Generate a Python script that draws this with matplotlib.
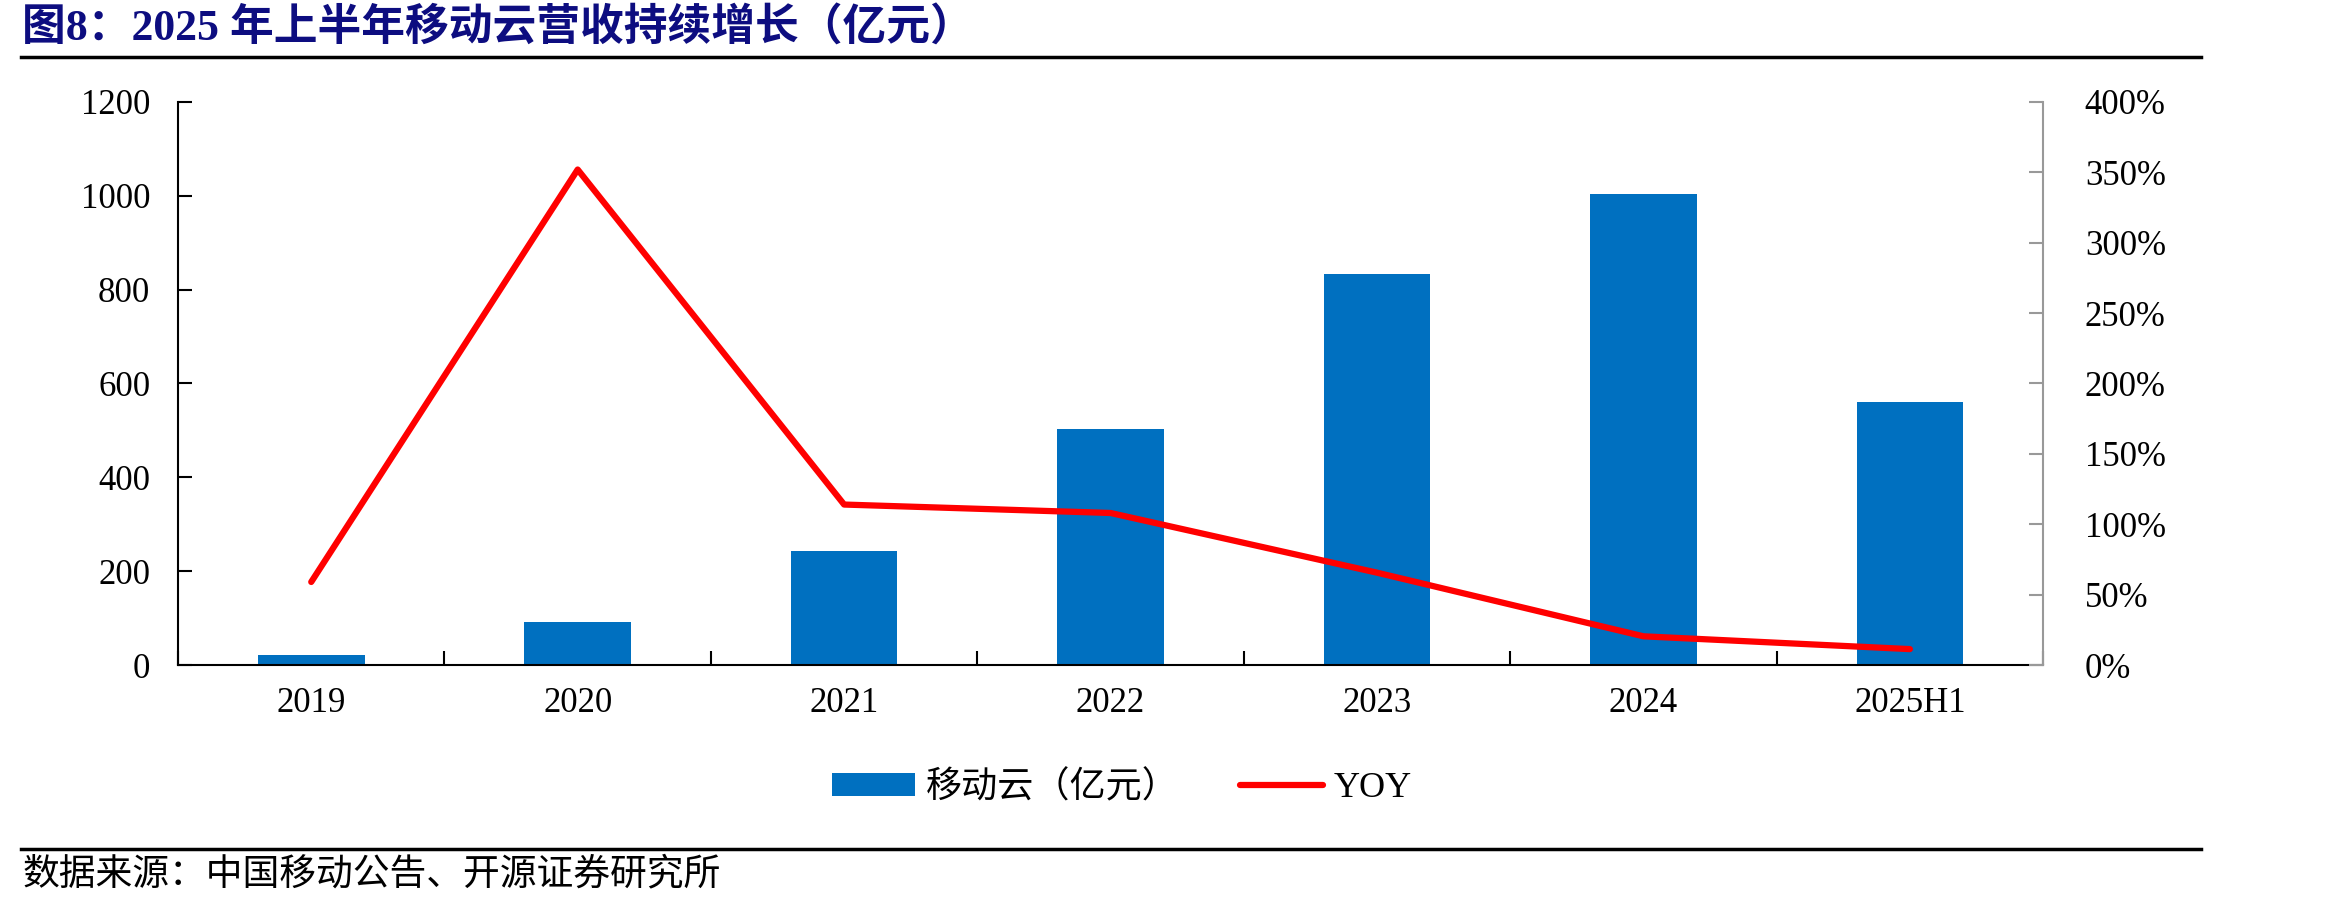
import matplotlib
matplotlib.use("Agg")
from matplotlib import pyplot as plt
from matplotlib.lines import Line2D
from matplotlib.patches import Patch
from matplotlib.ticker import FixedLocator
import numpy as np

# Data
categories = ["2019", "2020", "2021", "2022", "2023", "2024", "2025H1"]
revenue = [20.3, 91.8, 242, 503, 833, 1004, 561]      # 亿元
yoy = [59, 352, 114, 108, 65.6, 20.4, 11.3]            # %

left_ticks = [0, 200, 400, 600, 800, 1000, 1200]
right_ticks = [0, 50, 100, 150, 200, 250, 300, 350, 400]

serif = ["Liberation Serif", "Noto Sans CJK SC"]
cjk = ["Noto Sans CJK SC", "Liberation Serif"]

fig = plt.figure(figsize=(23.27, 9.08), dpi=100)
ax = fig.add_axes([0.0765, 0.2676, 0.8015, 0.6201])
ax2 = ax.twinx()

x = np.arange(len(categories))
ax.bar(x, revenue, width=0.4, color="#0070C0", zorder=2)
ax2.plot(x, yoy, color="#FF0000", lw=4.5, solid_capstyle="round", zorder=3)

ax.set_xlim(-0.5, len(categories) - 0.5)
ax.set_ylim(0, 1200)
ax2.set_ylim(0, 400)

ax.set_yticks(left_ticks)
ax.set_yticklabels([str(v) for v in left_ticks], family=serif, fontsize=25)
ax2.set_yticks(right_ticks)
ax2.set_yticklabels([f"{v}%" for v in right_ticks], family=serif, fontsize=25)

# category labels centered, tick marks at the boundaries
ax.set_xticks(x)
ax.set_xticklabels(categories, family=serif, fontsize=25)
ax.tick_params(axis="x", which="major", length=0, pad=16)
ax.xaxis.set_minor_locator(FixedLocator(np.arange(-0.5, len(categories), 1.0)))
ax.tick_params(axis="x", which="minor", direction="in", length=10, width=1.5, color="black")

ax.tick_params(axis="y", direction="in", length=10, width=1.5, pad=20)
ax2.tick_params(axis="y", direction="in", length=10, width=1.5, color="#999999", pad=30)

ax.spines["top"].set_visible(False)
ax2.spines["top"].set_visible(False)
ax.spines["right"].set_visible(False)
ax2.spines["left"].set_visible(False)
ax2.spines["bottom"].set_visible(False)
ax.spines["left"].set_linewidth(1.5)
ax.spines["bottom"].set_linewidth(1.5)
ax2.spines["right"].set_linewidth(1.5)
ax2.spines["right"].set_color("#999999")

# legend
handles = [Patch(facecolor="#0070C0", edgecolor="none"),
           Line2D([0], [0], color="#FF0000", lw=4.5, solid_capstyle="round")]
fig.legend(handles, ["移动云（亿元）", "YOY"], loc="center", bbox_to_anchor=(0.482, 0.132),
           ncol=2, frameon=False, prop={"family": serif, "size": 26},
           handlelength=2.3, handleheight=0.6, columnspacing=1.7, handletextpad=0.3)

# title, rules and source
fig.text(0.0095, 0.968, "图8：2025 年上半年移动云营收持续增长（亿元）", family=serif,
         fontsize=31.5, fontweight="bold", color="#0d0d80", ha="left", va="center")
fig.add_artist(Line2D([0.009, 0.946], [1 - 57 / 908] * 2, color="black", lw=2.5))
fig.add_artist(Line2D([0.009, 0.946], [1 - 849 / 908] * 2, color="black", lw=2.5))
fig.text(0.0095, 1 - 874 / 908, "数据来源：中国移动公告、开源证券研究所", family=cjk,
         fontsize=26.5, color="black", ha="left", va="center")

fig.savefig("out.png", dpi=100)
